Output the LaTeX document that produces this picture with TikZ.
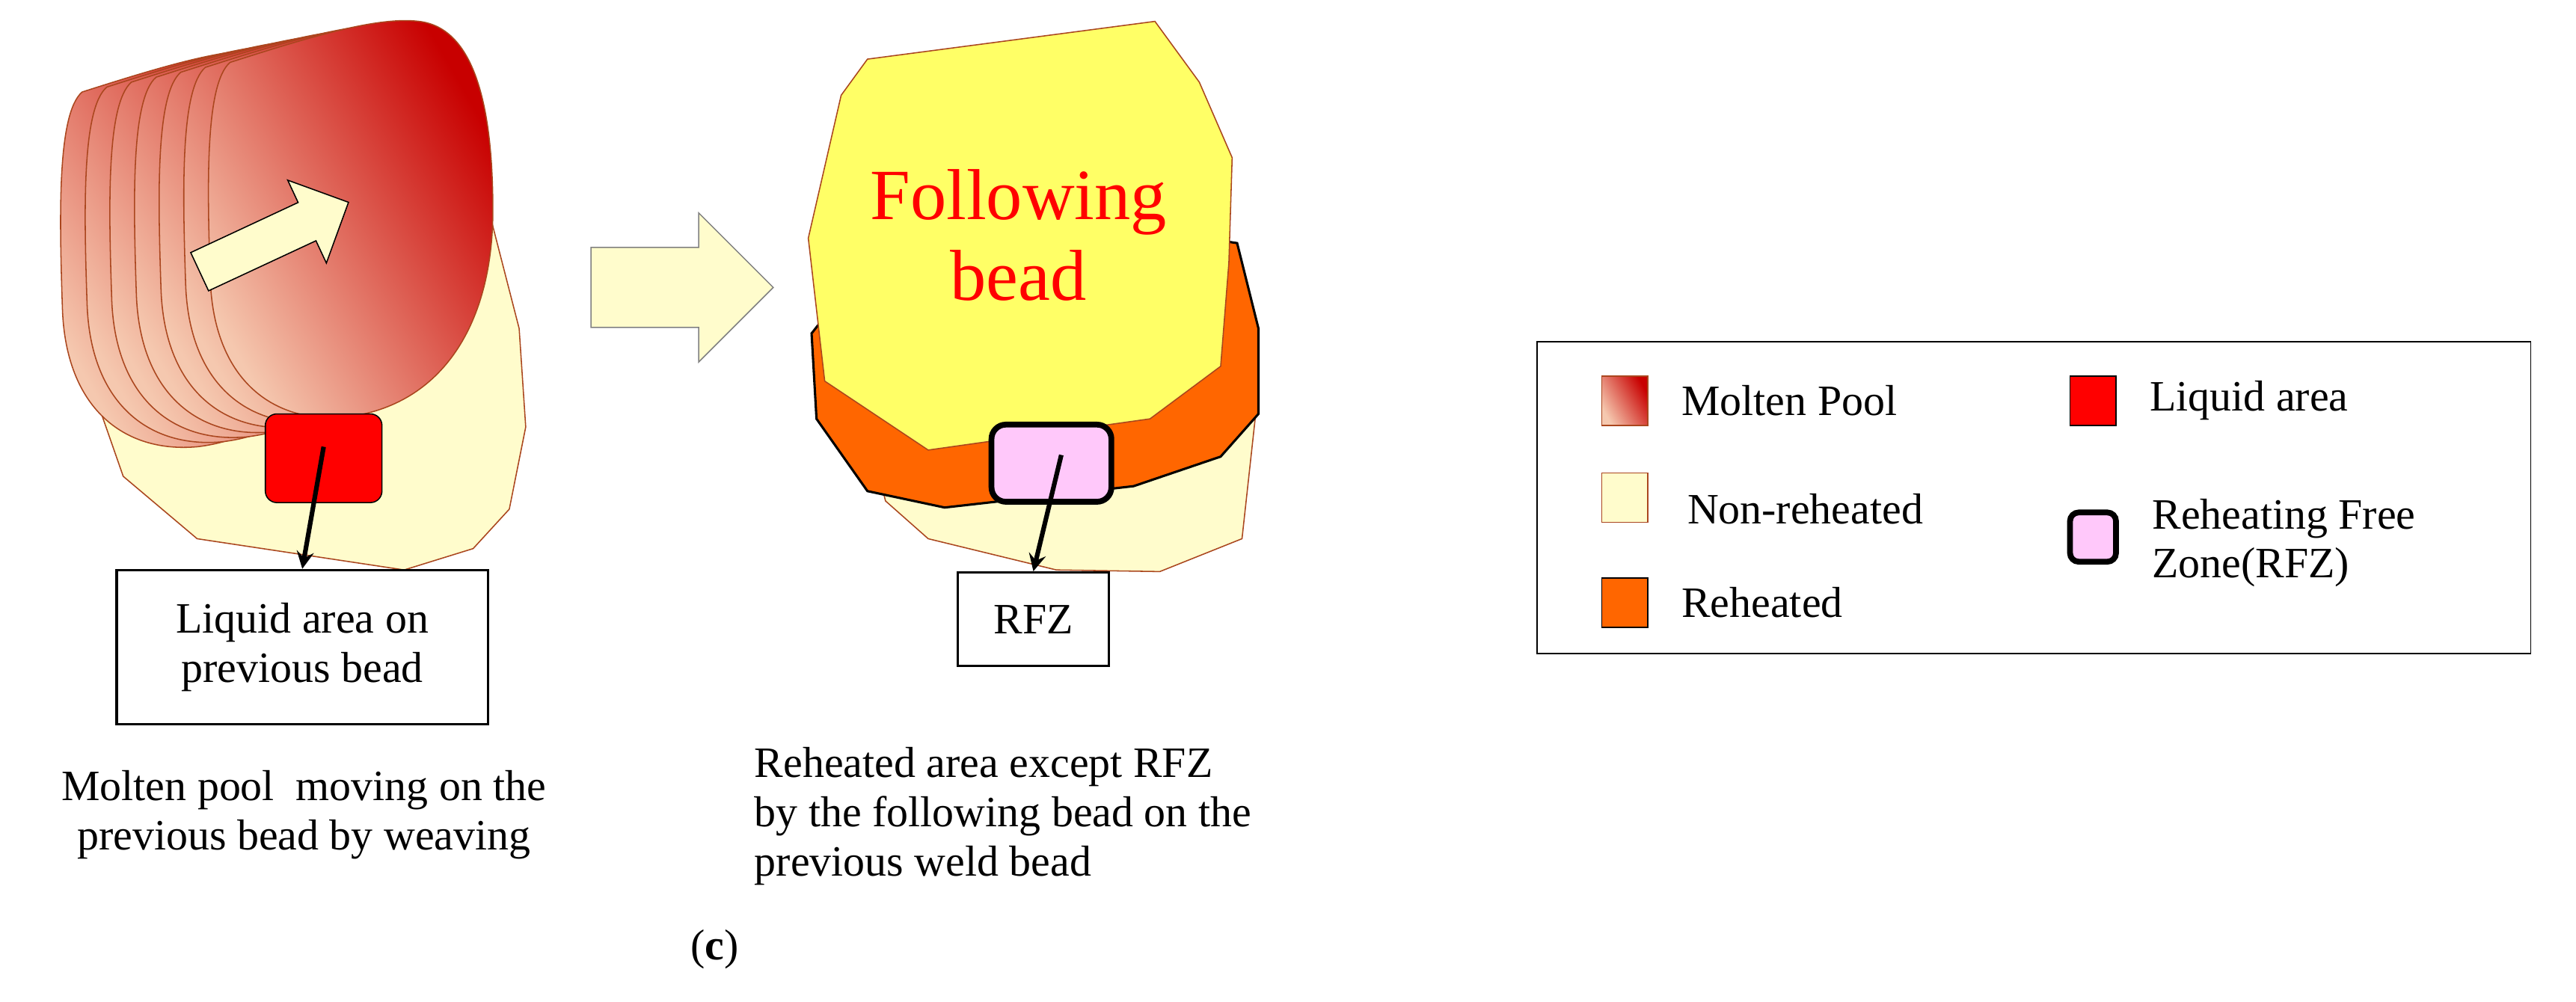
\documentclass[tikz,border=0pt]{standalone}
\usepackage{fontspec}
\setmainfont{Liberation Serif}
\usetikzlibrary{shapes.arrows,positioning}
\definecolor{pale}{RGB}{255,252,204}
\definecolor{brownedge}{RGB}{170,70,30}
\definecolor{reheat}{RGB}{255,102,0}
\definecolor{follow}{RGB}{255,255,102}
\definecolor{pinkz}{RGB}{255,200,250}
\definecolor{moltdark}{RGB}{200,0,0}
\definecolor{moltlight}{RGB}{245,200,175}
\tikzset{
  every node/.style={font=\fontsize{15}{17}\selectfont},
  txtbox/.style={draw, thick, fill=white, align=center, inner sep=4pt},
  pool/.style={left color=moltdark, right color=moltlight, shading angle=-60},
  pointer/.style={->, line width=1.6pt, >=stealth},
  swatch/.style={minimum width=0.56cm, minimum height=0.6cm, inner sep=0pt}
}
\begin{document}
\begin{tikzpicture}[x=0.02cm, y=-0.02cm]
\useasboundingbox (0,0) rectangle (1568,610);

% left: previous bead
\draw[draw=brownedge, fill=pale] (298,130) -- (316,200) -- (320,260) -- (310,310) -- (288,334)
  -- (246,347) -- (120,328) -- (75,290) -- (60,247) -- (60,200) -- cycle;
\foreach \s in {6,5,...,0}{
  \begin{scope}[shift={(-15*\s,3*\s)}]
    \shade[pool] (140,38) .. controls (190,22) and (230,10) .. (255,13)
      .. controls (290,17) and (300,68) .. (300,128) .. controls (300,196) and (270,247) .. (210,254)
      .. controls (165,258) and (130,230) .. (128,170) .. controls (126,111) and (125,51) .. (140,38) -- cycle;
    \draw[brownedge, thin] (140,38) .. controls (190,22) and (230,10) .. (255,13)
      .. controls (290,17) and (300,68) .. (300,128) .. controls (300,196) and (270,247) .. (210,254)
      .. controls (165,258) and (130,230) .. (128,170) .. controls (126,111) and (125,51) .. (140,38) -- cycle;
  \end{scope}
}
\node[single arrow, draw=black, fill=pale, minimum height=2.0cm, inner sep=0.25cm,
  single arrow head extend=0.3cm, rotate=25] (weave) at (161,147) {};
\node[draw=black, fill=red, rounded corners=4pt, minimum width=1.42cm, minimum height=1.08cm] (liquid) at (197,279) {};
\node[txtbox, minimum width=4.52cm, minimum height=1.88cm] (liqbox) at (184,394) {Liquid area on\\previous bead};
\draw[pointer] (197,272) -- (liqbox.north);
\node[align=center] (capA) at (185,496) {Molten pool\ \ moving on the\\previous bead by weaving};

% middle arrow
\node[single arrow, draw=gray, fill=pale, minimum height=2.22cm, inner sep=0.48cm,
  single arrow head extend=0.42cm] (step) at (403,175) {};

% right: following bead
\draw[draw=brownedge, fill=pale] (764,255) -- (756,328) -- (706,348) -- (643,347) -- (565,328)
  -- (539,305) -- (530,270) -- cycle;
\draw[black, thick, fill=reheat] (700,140) -- (753,148) -- (766,200) -- (766,252) -- (743,278)
  -- (690,296) -- (575,309) -- (528,299) -- (497,255) -- (494,203) -- (520,170) -- cycle;
\draw[draw=brownedge, fill=follow] (528,36) -- (703,13) -- (730,50) -- (750,96) -- (748,160)
  -- (743,223) -- (700,255) -- (565,274) -- (502,232) -- (492,145) -- (512,58) -- cycle;
\node[text=red, align=center, font=\fontsize{25}{28}\selectfont] (follow) at (620,143) {Following\\bead};
\node[draw=black, line width=2pt, fill=pinkz, rounded corners=5pt, minimum width=1.46cm, minimum height=0.94cm] (rfz) at (640,282) {};
\node[txtbox, minimum width=1.84cm, minimum height=1.14cm] (rfzbox) at (629,377) {RFZ};
\draw[pointer] (646,277) -- (rfzbox.north);
\node[align=left, anchor=west, inner sep=0pt] (capB) at (459,497) {Reheated area except RFZ\\by the following bead on the\\previous weld bead};
\node (label) at (435,578) {(\textbf{c})};

% legend
\node[draw=black, thin, minimum width=12.1cm, minimum height=3.8cm] (legend) at (1238,303) {};
\node[swatch, pool, draw=brownedge] (swA) at (989,244) {};
\node[right=8pt of swA] {Molten Pool};
\node[swatch, draw=black, fill=red] (swB) at (1274,244) {};
\node[right=8pt of swB] {Liquid area};
\node[swatch, draw=brownedge, fill=pale] (swC) at (989,303) {};
\node[right=10pt of swC, yshift=-4pt] {Non-reheated};
\node[swatch, draw=black, line width=2pt, fill=pinkz, rounded corners=3pt] (swD) at (1274,327) {};
\node[right=8pt of swD, align=left, yshift=-2pt] {Reheating Free\\Zone(RFZ)};
\node[swatch, draw=black, fill=reheat] (swE) at (989,367) {};
\node[right=8pt of swE] {Reheated};
\end{tikzpicture}
\end{document}
